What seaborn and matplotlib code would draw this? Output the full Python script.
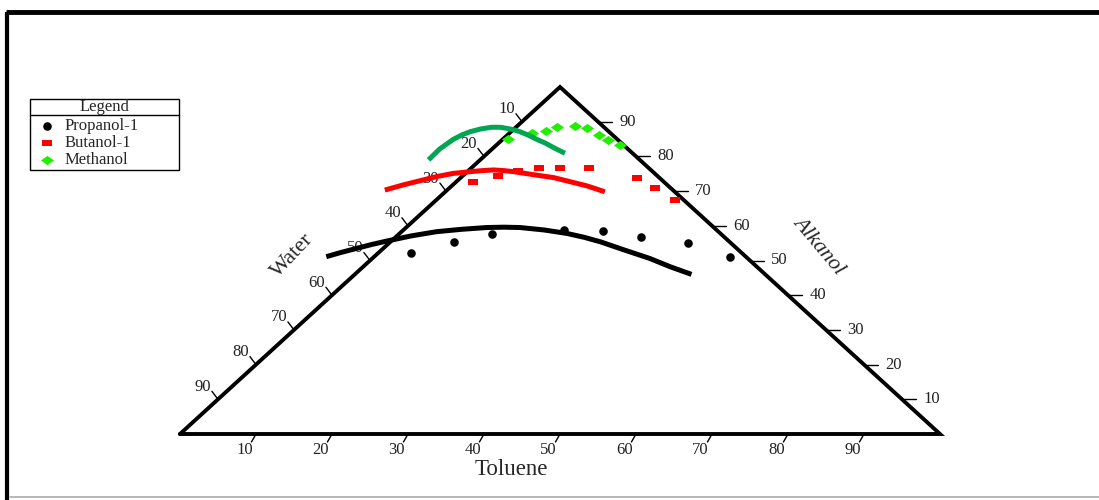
import numpy as np
import pandas as pd
import matplotlib
matplotlib.use("Agg")
import matplotlib.pyplot as plt
from matplotlib.path import Path
import seaborn as sns

sns.set_theme(style="white")
plt.rcParams['font.family'] = ['Liberation Serif', 'DejaVu Serif']

# ---- data: compositions in %, Toluene and Alkanol (Water = 100 - Toluene - Alkanol)
propanol_pts_toluene = [4.3, 8.4, 12.2, 21.2, 26.3, 32.2, 39.3, 46.8]
propanol_pts_alkanol = [52.1, 55.4, 57.6, 58.7, 58.6, 56.8, 55.0, 51.1]
butanol_pts_toluene = [2.3, 4.7, 6.6, 9.0, 11.7, 15.5, 23.2, 27.1, 31.4]
butanol_pts_alkanol = [72.5, 74.4, 75.8, 76.6, 76.6, 76.6, 73.9, 70.8, 67.4]
methanol_pts_toluene = [0.7, 2.9, 4.5, 5.4, 7.6, 9.5, 12.0, 14.0, 16.2]
methanol_pts_alkanol = [84.9, 86.8, 87.4, 88.4, 88.8, 88.1, 86.2, 84.7, 83.3]

propanol_fit_toluene = [-6.3, -5.0, -3.5, -2.1, -0.6, 1.9, 4.6, 7.6, 10.6, 12.8, 15.0, 18.5, 22.0,
                        24.8, 27.6, 32.0, 36.5, 40.4, 44.3]
propanol_fit_alkanol = [51.1, 52.3, 53.5, 54.6, 55.6, 57.1, 58.3, 59.0, 59.5, 59.6, 59.5, 58.8, 57.8,
                        56.7, 55.4, 53.0, 50.6, 48.2, 46.0]
butanol_fit_toluene = [-8.2, -6.5, -4.9, -3.3, -1.6, 0.4, 1.8, 3.2, 4.7, 6.1, 9.6, 12.2, 15.0, 17.8, 21.0]
butanol_fit_alkanol = [70.3, 71.8, 73.0, 74.2, 75.1, 75.6, 75.9, 76.1, 75.9, 75.6, 74.6, 73.9, 72.7, 71.5, 69.8]
methanol_fit_toluene = [-6.8, -6.9, -6.5, -6.0, -5.4, -4.4, -3.2, -2.1, -1.1, 0.0, 1.2, 2.8, 4.5, 6.2, 7.8, 10.2]
methanol_fit_alkanol = [79.0, 82.1, 84.9, 86.2, 87.1, 87.9, 88.4, 88.4, 88.1, 87.7, 87.1, 86.1, 84.9, 83.8, 82.6, 80.9]

series_names = ["Propanol-1", "Butanol-1", "Methanol"]
tick_values = [10, 20, 30, 40, 50, 60, 70, 80, 90]
axis_titles = ["Toluene", "Water", "Alkanol"]

# colours / markers
pt_colors = {"Propanol-1": "#000000", "Butanol-1": "#FF0000", "Methanol": "#22EE00"}
fit_colors = {"Propanol-1": "#000000", "Butanol-1": "#FF0000", "Methanol": "#00A651"}
rect_marker = Path([(-1, -0.58), (1, -0.58), (1, 0.58), (-1, 0.58), (-1, -0.58)],
                   [Path.MOVETO, Path.LINETO, Path.LINETO, Path.LINETO, Path.CLOSEPOLY])
diam_marker = Path([(-1, 0), (0, 0.7), (1, 0), (0, -0.7), (-1, 0)],
                   [Path.MOVETO, Path.LINETO, Path.LINETO, Path.LINETO, Path.CLOSEPOLY])
markers = {"Propanol-1": "o", "Butanol-1": rect_marker, "Methanol": diam_marker}
msizes = {"Propanol-1": 38, "Butanol-1": 56, "Methanol": 90}


def to_xy(t, a):
    t = np.asarray(t, float)
    a = np.asarray(a, float)
    return t + a / 2.0, a


W, H = 1099, 500
fig = plt.figure(figsize=(W / 100, H / 100), dpi=100)

# overlay axes in pixel coordinates (frame + legend)
ov = fig.add_axes([0, 0, 1, 1])
ov.set_xlim(0, W)
ov.set_ylim(H, 0)
ov.axis("off")
ov.plot([6, 1099], [12, 12], color="black", lw=3.5, solid_capstyle="butt")
ov.plot([7, 7], [12, 500], color="black", lw=3.0, solid_capstyle="butt")
ov.plot([10, 1099], [497, 497], color="#aaaaaa", lw=1.2)

# ternary axes: X 0..100 -> px 180..940, Y 0..100 -> px 434..87
ax = fig.add_axes([180 / W, (H - 434) / H, 760 / W, 347 / H])
ax.set_xlim(0, 100)
ax.set_ylim(0, 100)
ax.axis("off")

# triangle
tri_t = [0, 100, 0, 0]
tri_a = [0, 0, 100, 0]
tx, ty = to_xy(tri_t, tri_a)
ax.plot(tx, ty, color="black", lw=2.8, clip_on=False, solid_joinstyle="miter", zorder=2)

tick_kw = dict(color="black", lw=1.0, clip_on=False, zorder=2)
lab_kw = dict(fontsize=12, color="#222222", clip_on=False)
for v in tick_values:
    # Toluene (bottom)
    x, y = to_xy(v, 0)
    ax.plot([x, x - 0.6], [y, y - 2.3], **tick_kw)
    ax.text(x - 1.5, y - 4.6, str(v), ha="center", va="center", **lab_kw)
    # Water (left)
    x, y = to_xy(0, 100 - v)
    ax.plot([x, x - 0.8], [y, y + 2.3], **tick_kw)
    ax.text(x - 2.0, y + 3.6, str(v), ha="center", va="center", **lab_kw)
    # Alkanol (right)
    x, y = to_xy(100 - v, v)
    ax.plot([x, x + 1.9], [y, y], **tick_kw)
    ax.text(x + 2.8, y, str(v), ha="left", va="center", **lab_kw)

ax.text(43.6, -10.2, axis_titles[0], ha="center", va="center", fontsize=16.5, clip_on=False)
ax.text(14.8, 51.3, axis_titles[1], ha="center", va="center", fontsize=16, rotation=47, clip_on=False)
ax.text(84.0, 54.2, axis_titles[2], ha="center", va="center", fontsize=16, rotation=-50,
        style="italic", clip_on=False)

# fitted curves
fits = {
    "Propanol-1": (propanol_fit_toluene, propanol_fit_alkanol),
    "Butanol-1": (butanol_fit_toluene, butanol_fit_alkanol),
    "Methanol": (methanol_fit_toluene, methanol_fit_alkanol),
}
pts = {
    "Propanol-1": (propanol_pts_toluene, propanol_pts_alkanol),
    "Butanol-1": (butanol_pts_toluene, butanol_pts_alkanol),
    "Methanol": (methanol_pts_toluene, methanol_pts_alkanol),
}
for name in series_names:
    x, y = to_xy(*pts[name])
    sns.scatterplot(x=x, y=y, ax=ax, marker=markers[name], s=msizes[name],
                    color=pt_colors[name], linewidth=0, clip_on=False, zorder=3, legend=False)
for name in series_names:
    x, y = to_xy(*fits[name])
    sns.lineplot(x=x, y=y, ax=ax, sort=False, estimator=None, color=fit_colors[name],
                 lw=3.6, solid_capstyle="butt", solid_joinstyle="round",
                 clip_on=False, zorder=4, legend=False)

# legend (pixel coordinates)
ov.add_patch(plt.Rectangle((30, 99), 149, 71, fill=False, edgecolor="black", lw=1.0))
ov.plot([30, 179], [115, 115], color="black", lw=1.0)
ov.text(104, 107, "Legend", ha="center", va="center", fontsize=12)
leg_y = {"Propanol-1": 125.5, "Butanol-1": 143, "Methanol": 160}
for name in series_names:
    sns.scatterplot(x=[47], y=[leg_y[name]], ax=ov, marker=markers[name],
                    s=msizes[name], color=pt_colors[name], linewidth=0, legend=False)
    ov.text(65, leg_y[name], name, ha="left", va="center", fontsize=12)
ov.set_xlim(0, W)
ov.set_ylim(H, 0)

fig.savefig("out.png", dpi=100, facecolor="white")
